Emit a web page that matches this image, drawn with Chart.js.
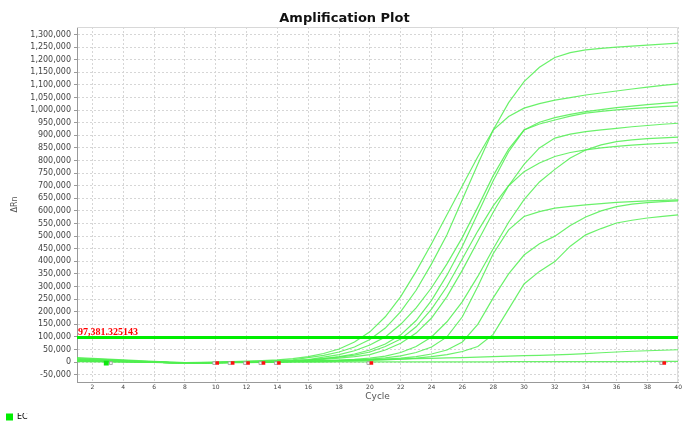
<!DOCTYPE html>
<html>
<head>
<meta charset="utf-8">
<script src="https://cdn.jsdelivr.net/npm/chart.js@4.4.1/dist/chart.umd.min.js"></script>
<style>
  html, body { margin: 0; padding: 0; background: #fff; }
  #wrap { width: 684px; height: 425px; }
</style>
</head>
<body>
<div id="wrap"><canvas id="amp" width="684" height="425"></canvas></div>
<script>
// Cycles and axis ticks
var cycles = [1,2,3,4,5,6,7,8,9,10,11,12,13,14,15,16,17,18,19,20,21,22,23,24,25,26,27,28,29,30,31,32,33,34,35,36,37,38,39,40];
var xTicks = [2,4,6,8,10,12,14,16,18,20,22,24,26,28,30,32,34,36,38,40];
var yTicks = [-50000,0,50000,100000,150000,200000,250000,300000,350000,400000,450000,500000,550000,600000,650000,
    700000,750000,800000,850000,900000,950000,1000000,1050000,1100000,1150000,1200000,1250000,1300000];

// Delta Rn per well, in thousands
var well1 = [10,8,6,4,2,0,-2,-3,-2,-1,1,2,4,6,9,18,27,40,60,90,135,200,285,390,505,645,785,921,1030,1113,1170,1209,1228,1239,1245,1250,1254,1258,1262,1266];
var well2 = [15,13,10,7,4,1,-1,-2,-1,0,2,4,6,9,14,22,34,52,80,120,180,260,360,470,585,700,815,921,975,1008,1026,1040,1050,1060,1068,1076,1084,1091,1098,1104];
var well3 = [6,5,4,3,1,0,-2,-3,-3,-2,-1,1,2,4,6,10,20,30,45,68,100,150,215,295,390,495,615,740,845,921,952,970,983,994,1002,1010,1016,1022,1027,1032];
var well4 = [18,15,12,9,6,3,0,-2,-3,-2,-1,0,2,3,5,8,14,22,32,48,72,108,165,245,345,460,590,720,835,921,945,961,976,988,995,1001,1006,1010,1014,1017];
var well5 = [8,7,5,4,2,0,-2,-3,-3,-2,-1,0,1,2,4,7,11,16,22,30,48,75,115,175,260,365,480,595,700,785,850,889,905,915,922,928,934,939,944,948];
var well6 = [2,2,1,1,0,-1,-2,-3,-3,-2,-1,0,1,2,3,4,6,8,11,16,24,38,62,100,160,240,340,450,555,645,715,765,810,842,862,875,882,887,890,893];
var well7 = [4,4,3,2,1,0,-2,-3,-3,-2,-1,0,1,3,5,9,14,20,28,40,62,92,140,210,300,410,520,620,700,756,790,816,832,842,850,856,861,865,868,871];
var well8 = [12,10,8,6,3,1,-1,-3,-3,-2,-1,0,1,2,3,4,5,7,9,12,17,25,38,60,100,180,300,430,525,578,597,611,618,624,629,634,637,640,642,644];
var well9 = [5,4,3,2,1,0,-2,-3,-3,-2,-1,0,1,1,2,3,4,5,7,9,12,16,22,32,48,80,150,255,350,425,470,500,542,576,600,617,627,633,637,640];
var well10 = [9,8,6,4,2,0,-2,-3,-3,-2,-1,0,0,1,2,2,3,4,5,7,9,12,16,22,30,42,62,110,210,310,360,399,460,505,530,552,563,572,578,584];
var well11 = [7,6,5,3,2,0,-2,-3,-3,-2,-1,0,1,2,3,4,5,6,8,10,11,12,14,15,17,18,20,22,24,26,27,29,31,34,37,40,43,45,47,49];
var well12 = [3,2,2,1,0,-1,-2,-3,-3,-3,-2,-2,-1,-1,0,0,0,1,1,1,1,1,1,1,1,1,1,1,2,2,2,2,2,2,2,2,2,3,3,3];

// Threshold and baseline markers
var threshold = 97381.325143;
var thresholdLabel = '97,381.325143';
var redMarkers = [10.1, 11.1, 12.1, 13.1, 14.1, 20.1, 39.1];
var grayMarkers = [3.2, 9.9, 10.9, 11.9, 12.9, 13.9, 19.9, 38.9];
var greenMarkers = [2.9];
var markerLevel = -4000;

var wells = [well1, well2, well3, well4, well5, well6, well7, well8, well9, well10, well11, well12];
var curveColor = 'rgba(80,238,80,0.85)';

function markerPoints(list) {
    return list.map(function(c) { return {x: c, y: markerLevel}; });
}

var datasets = [];
datasets.push({type: 'scatter', label: 'end', data: markerPoints(redMarkers), pointStyle: 'rect',
    pointRadius: 2.5, backgroundColor: '#ff1010', borderColor: '#ff1010', borderWidth: 0});
datasets.push({type: 'scatter', label: 'start', data: markerPoints(greenMarkers), pointStyle: 'rect',
    pointRadius: 3.5, backgroundColor: '#10e810', borderColor: '#10e810', borderWidth: 0});
datasets.push({type: 'scatter', label: 'box', data: markerPoints(grayMarkers), pointStyle: 'rect',
    pointRadius: 2, backgroundColor: '#f4f4f4', borderColor: '#9a9a9a', borderWidth: 0.8});
datasets.push({label: 'Threshold', data: [{x: 1, y: threshold}, {x: 40, y: threshold}],
    borderColor: '#00ee00', borderWidth: 3, pointRadius: 0, fill: false});
wells.forEach(function(w, i) {
    datasets.push({
        label: 'EC ' + (i + 1),
        data: w.map(function(v, j) { return {x: cycles[j], y: v * 1000}; }),
        borderColor: curveColor, borderWidth: 1.2, pointRadius: 0, tension: 0, fill: false
    });
});

// frame lines, threshold value text, legend nudged to the bottom edge
var plotExtras = {
    id: 'plotExtras',
    afterLayout: function(chart) {
        var lg = chart.legend;
        if (!lg) return;
        lg.top += 6;
        lg.bottom += 6;
        (lg.legendHitBoxes || []).forEach(function(h) { h.top += 6; });
    },
    beforeDatasetsDraw: function(chart) {
        var ctx = chart.ctx, a = chart.chartArea;
        ctx.save();
        ctx.strokeStyle = '#d8d8d8';
        ctx.lineWidth = 1;
        ctx.beginPath();
        ctx.moveTo(a.left, a.top + 0.5);
        ctx.lineTo(a.right - 0.5, a.top + 0.5);
        ctx.lineTo(a.right - 0.5, a.bottom);
        ctx.stroke();
        ctx.restore();
    },
    afterDatasetsDraw: function(chart) {
        var ctx = chart.ctx, a = chart.chartArea;
        var y = chart.scales.y.getPixelForValue(threshold);
        ctx.save();
        ctx.font = 'bold 10px "Liberation Serif"';
        ctx.fillStyle = '#ff0000';
        ctx.textBaseline = 'alphabetic';
        ctx.fillText(thresholdLabel, a.left + 1, y - 3);
        ctx.restore();
    }
};

new Chart(document.getElementById('amp'), {
    type: 'line',
    data: {datasets: datasets},
    plugins: [plotExtras],
    options: {
        responsive: false,
        animation: false,
        devicePixelRatio: 1,
        layout: {padding: {left: 6, right: 1, top: 0, bottom: 0}},
        plugins: {
            title: {
                display: true,
                text: 'Amplification Plot',
                color: '#111',
                font: {family: 'DejaVu Sans', size: 13, weight: 'bold'},
                padding: {top: 11, bottom: 0.4}
            },
            legend: {
                display: true,
                position: 'bottom',
                align: 'start',
                labels: {
                    boxWidth: 7,
                    boxHeight: 7,
                    padding: 0,
                    color: '#777',
                    font: {family: 'DejaVu Sans', size: 8},
                    generateLabels: function() {
                        return [{text: 'EC', fillStyle: '#00ee00', strokeStyle: '#00ee00', lineWidth: 0, hidden: false, datasetIndex: 4}];
                    }
                }
            },
            tooltip: {enabled: false}
        },
        scales: {
            x: {
                type: 'linear',
                min: 1,
                max: 40,
                afterBuildTicks: function(scale) {
                    scale.ticks = xTicks.map(function(v) { return {value: v}; });
                },
                afterFit: function(scale) {
                    scale.height = 425 - 382 - scale.chart.legend.height;
                },
                grid: {color: '#d6d6d6', drawTicks: false},
                border: {display: true, color: '#999', width: 1, dash: [2, 2]},
                ticks: {
                    padding: 2,
                    color: '#444',
                    font: {family: 'DejaVu Sans', size: 6},
                    maxRotation: 0,
                    autoSkip: false
                },
                title: {
                    display: true,
                    text: 'Cycle',
                    color: '#555',
                    font: {family: 'DejaVu Sans', size: 9},
                    padding: {top: 0, bottom: 5}
                }
            },
            y: {
                type: 'linear',
                min: -79000,
                max: 1330000,
                afterBuildTicks: function(scale) {
                    scale.ticks = yTicks.map(function(v) { return {value: v}; });
                },
                afterFit: function(scale) {
                    scale.width = 71;
                },
                grid: {color: '#d6d6d6', tickLength: 3, tickColor: '#999'},
                border: {display: true, color: '#999', width: 1, dash: [2, 2]},
                ticks: {
                    autoSkip: false,
                    padding: 3,
                    color: '#444',
                    font: {family: 'DejaVu Sans', size: 8},
                    callback: function(v) { return v.toLocaleString('en-US'); }
                },
                title: {
                    display: true,
                    text: 'ΔRn',
                    color: '#555',
                    font: {family: 'DejaVu Sans', size: 8},
                    padding: {top: 4, bottom: 0}
                }
            }
        }
    }
});
</script>
</body>
</html>
